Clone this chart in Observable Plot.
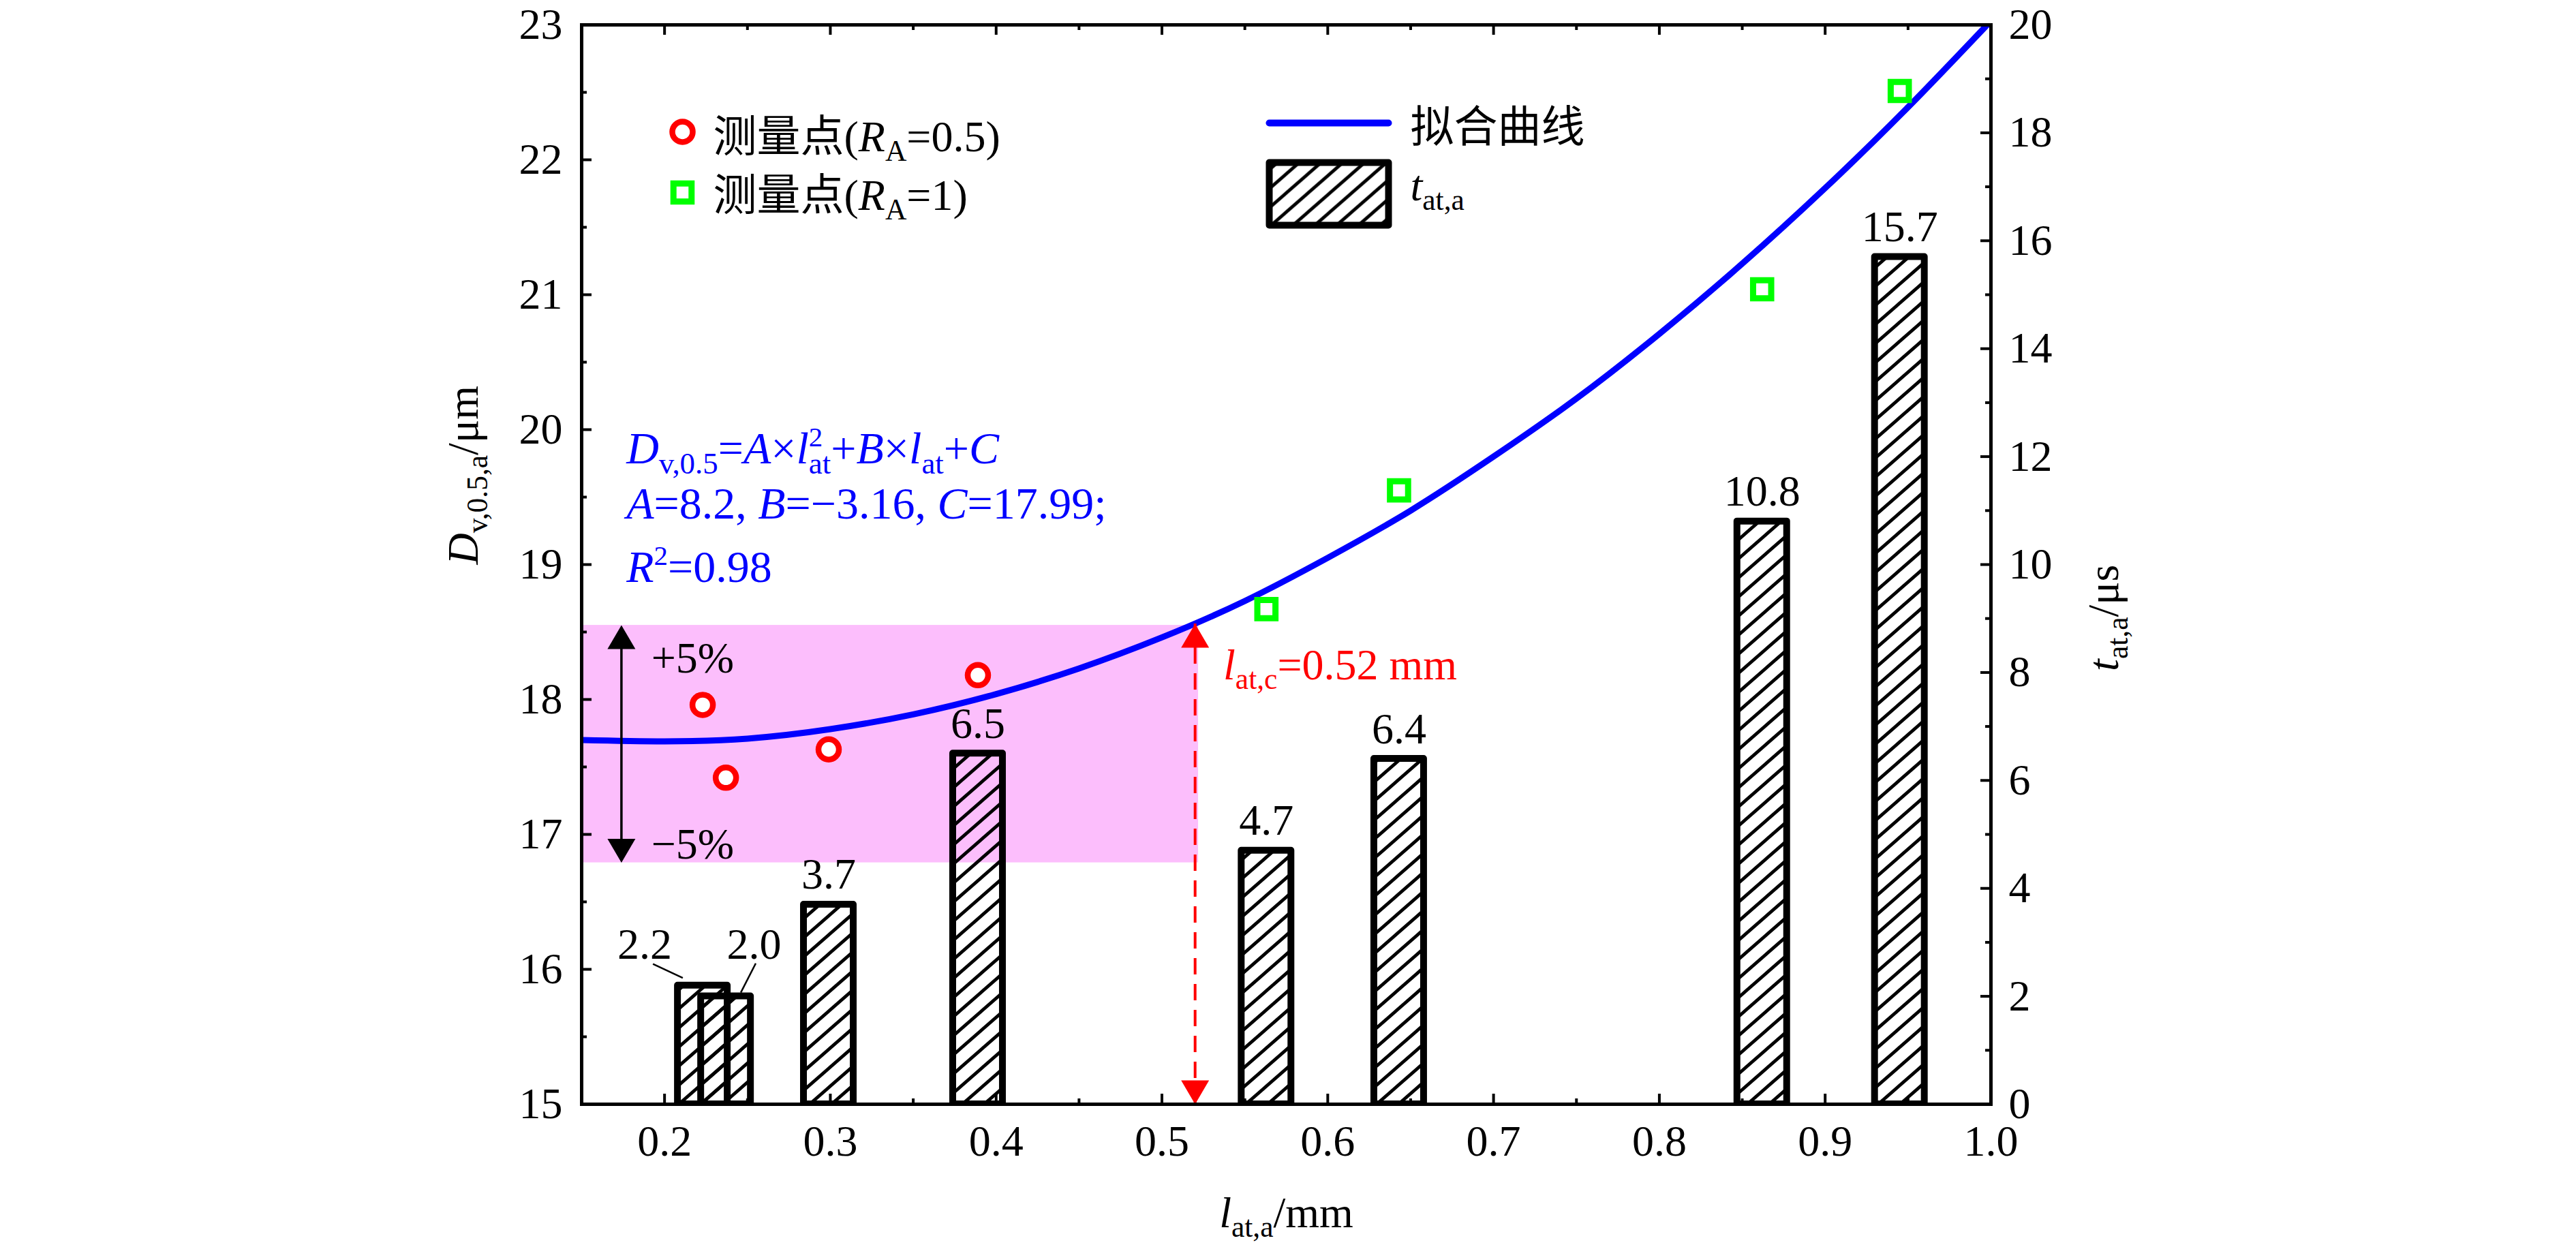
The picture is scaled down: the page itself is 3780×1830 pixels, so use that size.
<!DOCTYPE html>
<html><head><meta charset="utf-8">
<script src="https://cdn.jsdelivr.net/npm/d3@7"></script>
<script src="https://cdn.jsdelivr.net/npm/@observablehq/plot@0.6"></script>
<style>html,body{margin:0;padding:0;background:#fff}svg{display:block}</style>
</head><body><div id="chart"></div>
<script>
// ---------- data ----------
const xDomain = [0.15, 1.0];
const yLeftDomain = [15, 23];
const yRightDomain = [0, 20];
const xTicks = [0.2, 0.3, 0.4, 0.5, 0.6, 0.7, 0.8, 0.9, 1.0];
const xMinorTicks = [0.25, 0.35, 0.45, 0.55, 0.65, 0.75, 0.85, 0.95];
const yLeftTicks = [15, 16, 17, 18, 19, 20, 21, 22, 23];
const yLeftMinorTicks = [15.5, 16.5, 17.5, 18.5, 19.5, 20.5, 21.5, 22.5];
const yRightTicks = [0, 2, 4, 6, 8, 10, 12, 14, 16, 18, 20];
const yRightMinorTicks = [1, 3, 5, 7, 9, 11, 13, 15, 17, 19];

// measured points
const ra05X = [0.223, 0.237, 0.299, 0.389];
const ra05Y = [17.96, 17.42, 17.63, 18.18];
const ra1X = [0.563, 0.643, 0.862, 0.945];
const ra1Y = [18.67, 19.55, 21.04, 22.51];

// bars t_at,a (right axis, µs)
const barX = [0.223, 0.237, 0.299, 0.389, 0.563, 0.643, 0.862, 0.945];
const barT = [2.2, 2.0, 3.7, 6.5, 4.7, 6.4, 10.8, 15.7];
const barLabels = ["2.2", "2.0", "3.7", "6.5", "4.7", "6.4", "10.8", "15.7"];
// the first two labels are displaced, with leader lines (right-axis units)
const offLabelX = [0.188, 0.254];
const offLabelT = [2.70, 2.70];
const leaderX1 = [0.193, 0.255], leaderT1 = [2.60, 2.61];
const leaderX2 = [0.211, 0.246], leaderT2 = [2.34, 2.07];

// fitted curve
const curveX = [0.15, 0.2, 0.25, 0.3, 0.35, 0.4, 0.45, 0.5, 0.55, 0.6, 0.65, 0.7, 0.75, 0.8, 0.85, 0.9, 0.95, 1.0];
const curveY = [17.70, 17.69, 17.71, 17.78, 17.89, 18.04, 18.23, 18.46, 18.73, 19.05, 19.40, 19.80, 20.23, 20.71, 21.23, 21.79, 22.39, 23.03];

// ±5% band and critical length
const bandX = [0.15, 0.522];
const bandY = [16.79, 18.55];
const critX = 0.52;
const critY = 18.56;
const pctArrowX = 0.174;

// texts
const eqLines = ["*D*_{v,0.5}=*A*×*l*^{2}_{at}+*B*×*l*_{at}+*C*", "*A*=8.2, *B*=−3.16, *C*=17.99;", "*R*^{2}=0.98"];
const eqX = 0.177;
const eqY = [19.75, 19.34, 18.87];
const pctLabels = ["+5%", "−5%"];
const pctLabelX = 0.192;
const pctLabelY = [18.20, 16.82];
const critLabel = "*l*_{at,c}=0.52 mm";
const critLabelX = 0.537, critLabelY = 18.15;
const xTitle = "*l*_{at,a}/mm";
const yLeftTitle = "*D*_{v,0.5,a}/μm";
const yRightTitle = "*t*_{at,a}/μs";
const legendLabels = ["测量点(*R*_{A}=0.5)", "测量点(*R*_{A}=1)", "拟合曲线", "*t*_{at,a}"];

// ---------- layout / style ----------
const W = 3780, H = 1830;
const mL = 853, mR = 859, mT = 36, mB = 210;
const plotW = W - mL - mR, plotH = H - mT - mB;
const FONT = "'Liberation Serif','Noto Sans CJK SC',serif";
const BLUE = "#0000ff", RED = "#ff0000", GREEN = "#00ff00", PINK = "#fcbefc";
const toLeft = t => yLeftDomain[0] + (t - yRightDomain[0]) / (yRightDomain[1] - yRightDomain[0]) * (yLeftDomain[1] - yLeftDomain[0]);
const fromLeft = y => yRightDomain[0] + (y - yLeftDomain[0]) / (yLeftDomain[1] - yLeftDomain[0]) * (yRightDomain[1] - yRightDomain[0]);
const barHalf = 0.015;

const bars = barX.map((x, i) => ({x, t: barT[i], label: barLabels[i]}));
const offLabels = offLabelX.map((x, i) => ({x, t: offLabelT[i], label: barLabels[i]}));
const leaders = leaderX1.map((x, i) => ({x1: x, t1: leaderT1[i], x2: leaderX2[i], t2: leaderT2[i]}));
const pts05 = ra05X.map((x, i) => ({x, y: ra05Y[i]}));
const pts1 = ra1X.map((x, i) => ({x, y: ra1Y[i]}));
const curve = curveX.map((x, i) => ({x, y: curveY[i]}));
const eq = eqLines.map((s, i) => ({s, y: eqY[i]}));
const pct = pctLabels.map((s, i) => ({s, y: pctLabelY[i]}));

// custom symbols
const triUp = {draw(ctx) { ctx.moveTo(0, 0); ctx.lineTo(20.5, 35); ctx.lineTo(-20.5, 35); ctx.closePath(); }};
const triDown = {draw(ctx) { ctx.moveTo(0, 0); ctx.lineTo(20.5, -35); ctx.lineTo(-20.5, -35); ctx.closePath(); }};
const hLine = {draw(ctx) { ctx.moveTo(-87.5, 0); ctx.lineTo(87.5, 0); }};
const legRect = {draw(ctx) { ctx.rect(-87.5, -46, 175, 92); }};

const chart = Plot.plot({
  width: W, height: H,
  marginLeft: mL, marginRight: mR, marginTop: mT, marginBottom: mB,
  x: {domain: xDomain},
  y: {domain: yLeftDomain},
  style: {fontFamily: FONT, background: "white", color: "black"},
  marks: [
    // ±5% band
    Plot.rect([0], {x1: () => bandX[0], x2: () => bandX[1], y1: () => bandY[0], y2: () => bandY[1], fill: PINK}),
    // bars
    Plot.rect(bars, {x1: d => d.x - barHalf, x2: d => d.x + barHalf, y1: () => yLeftDomain[0], y2: d => toLeft(d.t),
      fill: "url(#hatch)", stroke: "black", strokeWidth: 10, strokeLinejoin: "round", clip: true}),
    Plot.text(bars.slice(2), {x: "x", y: d => toLeft(d.t), text: "label", dy: -23, lineAnchor: "bottom", fontSize: 64, fill: "black"}),
    Plot.text(offLabels, {x: "x", y: d => toLeft(d.t), text: "label", lineAnchor: "bottom", fontSize: 64, fill: "black"}),
    Plot.link(leaders, {x1: "x1", y1: d => toLeft(d.t1), x2: "x2", y2: d => toLeft(d.t2), stroke: "black", strokeWidth: 2.5}),
    // fitted curve
    Plot.line(curve, {x: "x", y: "y", stroke: BLUE, strokeWidth: 9, curve: "natural", clip: true}),
    // critical length
    Plot.ruleX([critX], {x: d => d, y1: () => yLeftDomain[0], y2: () => critY, stroke: RED, strokeWidth: 4, strokeDasharray: "24,14"}),
    Plot.dot([critX], {x: d => d, y: () => critY, symbol: triUp, fill: RED, stroke: "none"}),
    Plot.dot([critX], {x: d => d, y: () => yLeftDomain[0], symbol: triDown, fill: RED, stroke: "none"}),
    // ±5% double arrow
    Plot.ruleX([pctArrowX], {x: d => d, y1: () => bandY[0] + 0.1, y2: () => bandY[1] - 0.1, stroke: "black", strokeWidth: 3.5}),
    Plot.dot([pctArrowX], {x: d => d, y: () => bandY[1], symbol: triUp, fill: "black", stroke: "none"}),
    Plot.dot([pctArrowX], {x: d => d, y: () => bandY[0], symbol: triDown, fill: "black", stroke: "none"}),
    Plot.text(pct, {x: () => pctLabelX, y: "y", text: "s", textAnchor: "start", lineAnchor: "bottom", fontSize: 64, fill: "black"}),
    // measured points
    Plot.dot(pts05, {x: "x", y: "y", r: 15, symbol: "circle", stroke: RED, strokeWidth: 8.5, fill: "white"}),
    Plot.dot(pts1, {x: "x", y: "y", r: 15, symbol: "square", stroke: GREEN, strokeWidth: 9, fill: "white"}),
    // annotations
    Plot.text(eq, {x: () => eqX, y: "y", text: "s", textAnchor: "start", lineAnchor: "bottom", fontSize: 66, fill: BLUE}),
    Plot.text([critLabel], {x: () => critLabelX, y: () => critLabelY, text: d => d, textAnchor: "start", lineAnchor: "bottom", fontSize: 64, fill: RED}),
    // legend
    Plot.dot([0], {frameAnchor: "top-left", dx: 148, dy: 157, r: 15, symbol: "circle", stroke: RED, strokeWidth: 8.5, fill: "white"}),
    Plot.dot([0], {frameAnchor: "top-left", dx: 148, dy: 246, r: 15, symbol: "square", stroke: GREEN, strokeWidth: 9, fill: "white"}),
    Plot.dot([0], {frameAnchor: "top-left", dx: 1096.5, dy: 144, symbol: hLine, stroke: BLUE, strokeWidth: 10, fill: "none", strokeLinecap: "round"}),
    Plot.dot([0], {frameAnchor: "top-left", dx: 1096.5, dy: 248, symbol: legRect, stroke: "black", strokeWidth: 10, fill: "url(#hatch)", strokeLinejoin: "round"}),
    Plot.text([legendLabels[0]], {frameAnchor: "top-left", dx: 193, dy: 185, text: d => d, textAnchor: "start", lineAnchor: "bottom", fontSize: 64, fill: "black"}),
    Plot.text([legendLabels[1]], {frameAnchor: "top-left", dx: 193, dy: 271, text: d => d, textAnchor: "start", lineAnchor: "bottom", fontSize: 64, fill: "black"}),
    Plot.text([legendLabels[2]], {frameAnchor: "top-left", dx: 1216, dy: 171, text: d => d, textAnchor: "start", lineAnchor: "bottom", fontSize: 64, fill: "black"}),
    Plot.text([legendLabels[3]], {frameAnchor: "top-left", dx: 1216, dy: 257, text: d => d, textAnchor: "start", lineAnchor: "bottom", fontSize: 64, fill: "black"}),
    // inward ticks
    Plot.ruleY(yLeftTicks, {y: d => d, insetRight: plotW - 15, stroke: "black", strokeWidth: 4}),
    Plot.ruleY(yLeftMinorTicks, {y: d => d, insetRight: plotW - 8, stroke: "black", strokeWidth: 4}),
    Plot.ruleY(yRightTicks.map(toLeft), {y: d => d, insetLeft: plotW - 15, stroke: "black", strokeWidth: 4}),
    Plot.ruleY(yRightMinorTicks.map(toLeft), {y: d => d, insetLeft: plotW - 8, stroke: "black", strokeWidth: 4}),
    Plot.ruleX(xTicks, {x: d => d, insetTop: plotH - 15, stroke: "black", strokeWidth: 4}),
    Plot.ruleX(xMinorTicks, {x: d => d, insetTop: plotH - 8, stroke: "black", strokeWidth: 4}),
    Plot.ruleX(xTicks, {x: d => d, insetBottom: plotH - 15, stroke: "black", strokeWidth: 4}),
    Plot.ruleX(xMinorTicks, {x: d => d, insetBottom: plotH - 8, stroke: "black", strokeWidth: 4}),
    Plot.frame({stroke: "black", strokeWidth: 5}),
    // axis labels
    Plot.axisX(xTicks, {anchor: "bottom", tickSize: 0, tickPadding: 30, tickFormat: d3.format(".1f"), fontSize: 64, label: null}),
    Plot.axisY(yLeftTicks, {anchor: "left", tickSize: 0, tickPadding: 28, tickFormat: d => String(d), fontSize: 64, label: null}),
    Plot.axisY(yRightTicks.map(toLeft), {anchor: "right", tickSize: 0, tickPadding: 26, tickFormat: d => String(Math.round(fromLeft(d))), fontSize: 64, label: null}),
    // titles
    Plot.text([xTitle], {frameAnchor: "bottom", dy: 180, text: d => d, lineAnchor: "bottom", fontSize: 64, fill: "black"}),
    Plot.text([yLeftTitle], {frameAnchor: "left", dx: -153, rotate: -90, text: d => d, lineAnchor: "bottom", fontSize: 64, fill: "black"}),
    Plot.text([yRightTitle], {frameAnchor: "right", dx: 186, rotate: -90, text: d => d, lineAnchor: "bottom", fontSize: 64, fill: "black"})
  ]
});

document.getElementById("chart").appendChild(chart);

// hatch pattern
const NS = "http://www.w3.org/2000/svg";
const defs = document.createElementNS(NS, "defs");
defs.innerHTML = '<pattern id="hatch" patternUnits="userSpaceOnUse" width="32" height="28">' +
  '<path d="M-2,29.75L34,-1.75M-2,1.75L34,-29.75M-2,57.75L34,26.25" stroke="black" stroke-width="4.8" fill="none"/></pattern>';
chart.insertBefore(defs, chart.firstChild);

// rich text (italic, sub/superscripts)
function parseRich(s) {
  const segs = []; let italic = false, buf = "", i = 0;
  const flush = () => { if (buf) segs.push({text: buf, italic, mode: "n"}); buf = ""; };
  while (i < s.length) {
    const c = s[i];
    if (c === "*") { flush(); italic = !italic; i++; }
    else if ((c === "_" || c === "^") && s[i + 1] === "{") {
      flush();
      const j = s.indexOf("}", i);
      segs.push({text: s.slice(i + 2, j), italic: false, mode: c === "_" ? "sub" : "sup"});
      i = j + 1;
    } else { buf += c; i++; }
  }
  flush();
  return segs;
}
chart.querySelectorAll("text").forEach(t => {
  const s = t.textContent;
  if (!(s.includes("*") || s.includes("_{") || s.includes("^{"))) return;
  const fs = parseFloat(getComputedStyle(t).fontSize) || 64;
  const segs = parseRich(s);
  t.textContent = "";
  let cur = 0, prevSup = null;
  segs.forEach(seg => {
    const ts = document.createElementNS(NS, "tspan");
    ts.textContent = seg.text;
    let target = 0;
    if (seg.mode === "sub") { target = 0.22 * fs; ts.setAttribute("font-size", 0.68 * fs); }
    else if (seg.mode === "sup") { target = -0.38 * fs; ts.setAttribute("font-size", 0.62 * fs); }
    if (seg.italic) ts.setAttribute("font-style", "italic");
    const d = target - cur;
    if (d) ts.setAttribute("dy", d);
    cur = target;
    t.appendChild(ts);
    if (seg.mode === "sub" && prevSup) ts.setAttribute("dx", -prevSup.getComputedTextLength());
    prevSup = seg.mode === "sup" ? ts : null;
  });
});
</script>
</body></html>
